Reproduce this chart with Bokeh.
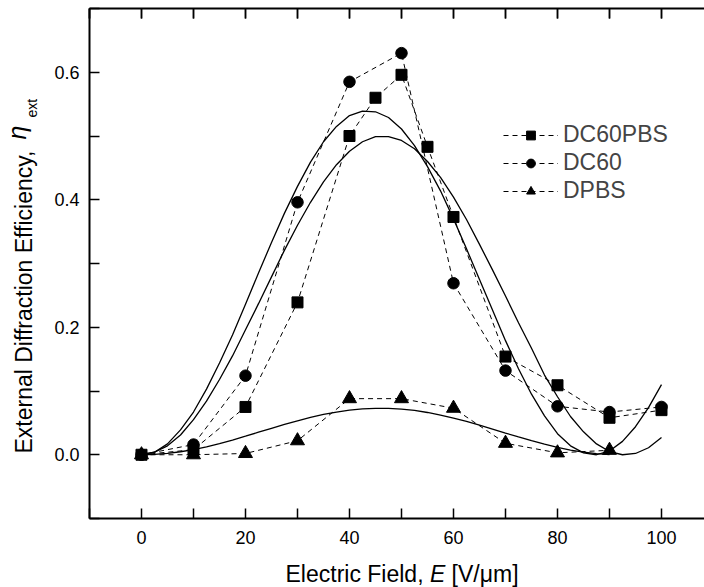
from bokeh.plotting import figure
from bokeh.models import (Range1d, LinearAxis, FixedTicker, NumeralTickFormatter,
                          Label, Legend, LegendItem)
from bokeh.embed import file_html
from bokeh.resources import INLINE

FONT = "Liberation Sans"

# ---- data ----
x_dc60pbs = [0, 10, 20, 30, 40, 45, 50, 55, 60, 70, 80, 90, 100]
y_dc60pbs = [0.0, 0.008, 0.075, 0.239, 0.500, 0.560, 0.596, 0.483, 0.373, 0.154, 0.109, 0.058, 0.070]

x_dc60 = [0, 10, 20, 30, 40, 50, 60, 70, 80, 90, 100]
y_dc60 = [0.0, 0.016, 0.124, 0.396, 0.585, 0.630, 0.269, 0.132, 0.076, 0.067, 0.075]

x_dpbs = [0, 10, 20, 30, 40, 50, 60, 70, 80, 90]
y_dpbs = [0.0, 0.0, 0.002, 0.022, 0.088, 0.088, 0.073, 0.018, 0.003, 0.007]

# fitted curves (solid lines), read every 2.5 V/um
x_fit = [0, 2.5, 5, 7.5, 10, 12.5, 15, 17.5, 20, 22.5, 25, 27.5, 30, 32.5, 35, 37.5,
         40, 42.5, 45, 47.5, 50, 52.5, 55, 57.5, 60, 62.5, 65, 67.5, 70, 72.5, 75, 77.5,
         80, 82.5, 85, 87.5, 90, 92.5, 95, 97.5, 100]
fit_a = [0.0, 0.004, 0.017, 0.039, 0.067, 0.103, 0.144, 0.188, 0.236, 0.285, 0.333, 0.379,
         0.421, 0.459, 0.491, 0.515, 0.532, 0.539, 0.538, 0.529, 0.511, 0.485, 0.452, 0.414,
         0.370, 0.323, 0.275, 0.227, 0.179, 0.135, 0.095, 0.061, 0.033, 0.014, 0.003, 0.000,
         0.006, 0.021, 0.044, 0.074, 0.110]
fit_b = [0.0, 0.004, 0.014, 0.031, 0.055, 0.084, 0.118, 0.155, 0.196, 0.237, 0.279, 0.321,
         0.360, 0.396, 0.428, 0.455, 0.476, 0.491, 0.499, 0.499, 0.493, 0.480, 0.460, 0.435,
         0.404, 0.369, 0.330, 0.290, 0.249, 0.207, 0.167, 0.125, 0.091, 0.060, 0.036, 0.017,
         0.005, 0.000, 0.002, 0.011, 0.027]
x_fit_c = [0, 2.5, 5, 7.5, 10, 12.5, 15, 17.5, 20, 22.5, 25, 27.5, 30, 32.5, 35, 37.5,
           40, 42.5, 45, 47.5, 50, 52.5, 55, 57.5, 60, 62.5, 65, 67.5, 70, 72.5, 75, 77.5,
           80, 82.5, 85, 87.5, 90]
fit_c = [0.0, 0.0005, 0.0021, 0.0047, 0.0082, 0.0125, 0.0175, 0.0231, 0.0291, 0.0353,
         0.0415, 0.0475, 0.0533, 0.0586, 0.0632, 0.0670, 0.0700, 0.0720, 0.0729, 0.0728,
         0.0716, 0.0695, 0.0663, 0.0623, 0.0576, 0.0523, 0.0463, 0.0403, 0.0340, 0.0279,
         0.0220, 0.0165, 0.0116, 0.0074, 0.0041, 0.0017, 0.0003]

x_major = [0, 20, 40, 60, 80, 100]
x_minor = [-10, 10, 30, 50, 70, 90, 110]
y_major = [0.0, 0.2, 0.4, 0.6]
y_minor = [-0.1, 0.1, 0.3, 0.5, 0.7]

# axis box: x from -10 (page x 89), 5.2 px per unit; y from -0.1 (page y 518) to 0.7 (page y 8)
XL, XR = -10, 108.27
YB, YT = -0.1, 0.7
W, H = 704, 587
PX_X = 5.2
PX_Y = 510 / 0.8
TICK = 10  # tick length, px
x0 = XL - 89 / PX_X
y1 = YT + 8 / PX_Y
y0 = YB - (H - 518) / PX_Y

p = figure(width=W, height=H, output_backend="svg", toolbar_location=None,
           x_range=Range1d(x0, XR), y_range=Range1d(y0, y1),
           x_axis_type=None, y_axis_type=None, min_border=0)
p.outline_line_color = None
p.background_fill_color = "white"
p.border_fill_color = "white"


def style(ax):
    ax.axis_line_width = 2
    ax.axis_line_color = "black"
    ax.major_tick_in = TICK
    ax.major_tick_out = 0
    ax.minor_tick_in = TICK
    ax.minor_tick_out = 0
    ax.major_tick_line_width = 1.5
    ax.minor_tick_line_width = 1.5
    ax.major_tick_line_color = "black"
    ax.minor_tick_line_color = "black"
    ax.major_label_text_font = FONT
    ax.major_label_text_color = "black"
    ax.major_label_text_font_size = "18px"


xb = LinearAxis(ticker=FixedTicker(ticks=x_major, minor_ticks=x_minor),
                fixed_location=YB, bounds=(XL, XR))
style(xb)
xb.major_label_standoff = 12
p.add_layout(xb, "below")

# top edge of the box: an unlabelled x axis pinned at y = 0.7
top_ticks = [t for t in sorted(x_major + x_minor) if XL <= t <= XR]
xt = LinearAxis(ticker=FixedTicker(ticks=[], minor_ticks=top_ticks),
                fixed_location=YT, bounds=(XL, XR))
style(xt)
xt.major_tick_in = 0
xt.minor_tick_in = 0
xt.major_tick_out = TICK
xt.minor_tick_out = TICK
p.add_layout(xt, "below")
# inward tick marks hanging from the top edge, one per top tick value
p.segment(x0=top_ticks, y0=[YT] * len(top_ticks), x1=top_ticks,
          y1=[YT - TICK / PX_Y] * len(top_ticks), line_color="black", line_width=1.5)

yl = LinearAxis(ticker=FixedTicker(ticks=y_major, minor_ticks=y_minor),
                formatter=NumeralTickFormatter(format="0.0"),
                fixed_location=XL, bounds=(YB, YT))
style(yl)
yl.major_label_standoff = 10
p.add_layout(yl, "left")

# fits
for xs, ys in ((x_fit, fit_a), (x_fit, fit_b), (x_fit_c, fit_c)):
    p.line(xs, ys, line_color="black", line_width=1.3)

dash = "5 4"
l1 = p.line(x_dc60pbs, y_dc60pbs, line_color="black", line_width=1, line_dash=dash)
m1 = p.scatter(x_dc60pbs, y_dc60pbs, marker="square", size=11, color="black")
l2 = p.line(x_dc60, y_dc60, line_color="black", line_width=1, line_dash=dash)
m2 = p.scatter(x_dc60, y_dc60, marker="circle", size=11.5, color="black")
l3 = p.line(x_dpbs, y_dpbs, line_color="black", line_width=1, line_dash=dash)
m3 = p.scatter(x_dpbs, y_dpbs, marker="triangle", size=14, color="black")

legend = Legend(items=[LegendItem(label="DC60PBS", renderers=[l1, m1]),
                       LegendItem(label="DC60", renderers=[l2, m2]),
                       LegendItem(label="DPBS", renderers=[l3, m3])],
                location=(503, 383), glyph_width=55, glyph_height=22, label_height=22,
                label_standoff=5, spacing=1, padding=0, margin=0,
                label_text_font=FONT, label_text_font_size="23px",
                border_line_color=None, background_fill_alpha=0)
p.add_layout(legend)


def px_x(page_x):
    return x0 + page_x / PX_X


def px_y(page_y):
    return y1 - page_y / PX_Y


def lab(**kw):
    d = dict(text_font=FONT, text_font_size="23px", text_color="black",
             text_align="left", text_baseline="middle")
    d.update(kw)
    p.add_layout(Label(**d))


# x-axis title
lab(x=px_x(285), y=px_y(573), text="Electric Field,")
lab(x=px_x(429.4), y=px_y(573), text="E", text_font_style="italic")
lab(x=px_x(451.1), y=px_y(573), text="[V/\u03bcm]")

# y-axis title (rotated)
lab(x=px_x(23.5), y=px_y(453), text="External Diffraction Efficiency,", angle=90,
    angle_units="deg")
lab(x=px_x(17), y=px_y(139), text="\u03b7", angle=90, angle_units="deg",
    text_font_style="italic", text_font_size="25px")
lab(x=px_x(31.5), y=px_y(117), text="ext", angle=90, angle_units="deg",
    text_font_size="14px")

open("out.html", "w").write(file_html(p, INLINE))
